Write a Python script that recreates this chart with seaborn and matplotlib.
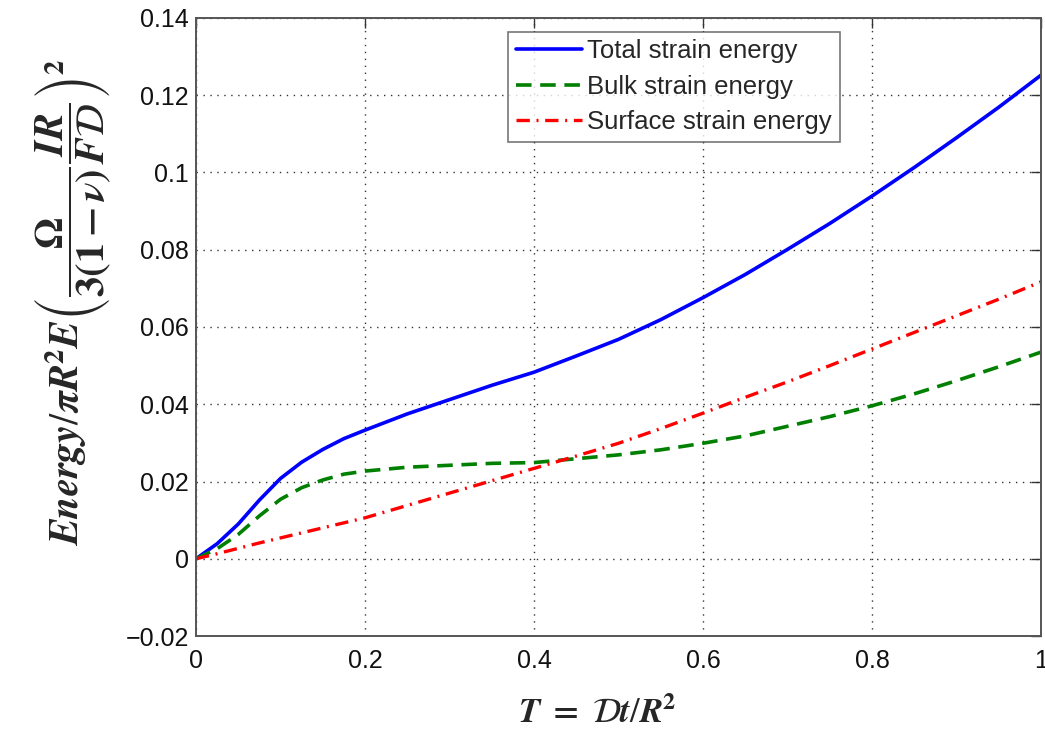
import matplotlib
matplotlib.use("Agg")
import matplotlib.pyplot as plt
import seaborn as sns
import pandas as pd
from matplotlib.ticker import FixedLocator, FuncFormatter

# Dimensionless time samples
T = [0, 0.025, 0.05, 0.075, 0.1, 0.125, 0.15, 0.175, 0.2, 0.25, 0.3, 0.35,
     0.4, 0.45, 0.5, 0.55, 0.6, 0.65, 0.7, 0.75, 0.8, 0.85, 0.9, 0.95, 1.0]

# Normalised strain energies
total_energy = [0, 0.0039, 0.0090, 0.0152, 0.0208, 0.0250, 0.0283, 0.0311,
                0.0333, 0.0375, 0.0412, 0.0449, 0.0483, 0.0525, 0.0568,
                0.0619, 0.0676, 0.0736, 0.0801, 0.0868, 0.0939, 0.1013,
                0.1090, 0.1169, 0.1252]
bulk_energy = [0, 0.0026, 0.0063, 0.0111, 0.0154, 0.0184, 0.0204, 0.0219,
               0.0227, 0.0237, 0.0242, 0.0247, 0.0249, 0.0259, 0.0269,
               0.0282, 0.0299, 0.0318, 0.0343, 0.0368, 0.0396, 0.0427,
               0.0461, 0.0497, 0.0535]
surface_energy = [0, 0.0013, 0.0027, 0.0041, 0.0054, 0.0067, 0.0080, 0.0093,
                  0.0106, 0.0138, 0.0170, 0.0202, 0.0234, 0.0266, 0.0299,
                  0.0337, 0.0377, 0.0418, 0.0458, 0.0500, 0.0543, 0.0586,
                  0.0629, 0.0672, 0.0717]

series_labels = ["Total strain energy", "Bulk strain energy", "Surface strain energy"]
x_ticks = [0, 0.2, 0.4, 0.6, 0.8, 1.0]
y_ticks = [-0.02, 0, 0.02, 0.04, 0.06, 0.08, 0.1, 0.12, 0.14]

sns.set_style("white")
plt.rcParams["font.family"] = ["Liberation Sans", "DejaVu Sans"]
plt.rcParams["mathtext.fontset"] = "stix"

df = pd.DataFrame({"T": T, "total": total_energy, "bulk": bulk_energy,
                   "surface": surface_energy})

fig = plt.figure(figsize=(10.45, 7.34), dpi=100)
ax = fig.add_axes([0.1876, 0.1335, 0.8086, 0.842])

sns.lineplot(data=df, x="T", y="total", ax=ax, color="#0000ff", lw=2.6,
             label=series_labels[0])
sns.lineplot(data=df, x="T", y="bulk", ax=ax, color="#008000", lw=2.6,
             linestyle=(0, (4.3, 2.4)), label=series_labels[1])
sns.lineplot(data=df, x="T", y="surface", ax=ax, color="#ff0000", lw=2.4,
             linestyle=(0, (4, 2, 0.6, 2)), label=series_labels[2])

ax.set_xlim(0, 1)
ax.set_ylim(-0.02, 0.14)
ax.xaxis.set_major_locator(FixedLocator(x_ticks))
ax.yaxis.set_major_locator(FixedLocator(y_ticks))


def fmt(v, _pos):
    s = f"{v:g}"
    return s.replace("-", "\u2212")


ax.xaxis.set_major_formatter(FuncFormatter(fmt))
ax.yaxis.set_major_formatter(FuncFormatter(fmt))

ax.grid(True, linestyle=(0, (1, 4)), color="#333333", lw=1.0)
ax.tick_params(direction="in", length=7, width=1, colors="#333333",
               labelcolor="#111111", labelsize=18, top=True, right=True)
ax.tick_params(axis="x", pad=9)
ax.tick_params(axis="y", pad=5)
for sp in ax.spines.values():
    sp.set_color("#555555")
    sp.set_linewidth(1.4)

ax.set_xlabel(r"$\mathbfit{T}\ \mathbf{=}\ \mathcal{D}\mathbfit{t}/\mathbfit{R}^{\mathbf{2}}$",
              fontsize=25)
ax.xaxis.set_label_coords(0.475, -0.097)
ax.set_ylabel(r"$\mathbfit{Energy}/\mathbfit{\pi R}^{\mathbf{2}}\mathbfit{E}"
              r"\left(\dfrac{\mathbf{\Omega}}{\mathbf{3(1-}\mathbfit{\nu}\mathbf{)}}"
              r"\dfrac{\mathbfit{IR}}{\mathbfit{F}\mathcal{D}}\right)^{\mathbf{2}}$",
              fontsize=29)
ax.yaxis.set_label_coords(-0.098, 0.54)

leg = ax.legend(loc="upper left", bbox_to_anchor=(0.369, 0.978), fontsize=18.5,
                frameon=True, fancybox=False, edgecolor="#555555",
                handlelength=2.6, handletextpad=0.2, borderpad=0.3,
                labelspacing=0.45, borderaxespad=0)
leg.get_frame().set_linewidth(1.2)

fig.savefig("out.png", dpi=100)
